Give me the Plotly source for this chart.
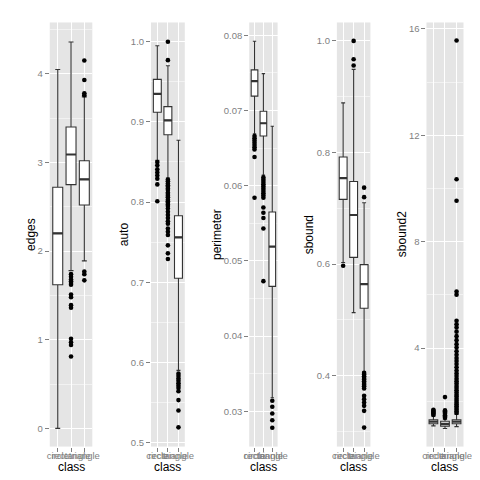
import plotly.graph_objects as go

# classes on every x axis
classes = ["circle", "rectangle", "triangle"]

# box stats per class: [lower whisker, q1, median, q3, upper whisker]
edges_box = [[0.00, 1.62, 2.20, 2.72, 4.05],
             [1.78, 2.75, 3.09, 3.40, 4.36],
             [1.89, 2.52, 2.81, 3.02, 3.74]]
edges_out = [[],
             [1.74, 1.71, 1.68, 1.66, 1.64, 1.62, 1.51, 1.48, 1.39, 1.36, 1.01, 0.97, 0.94, 0.81],
             [4.15, 3.93, 3.78, 3.76, 1.77, 1.74, 1.67]]

auto_box = [[0.852, 0.912, 0.935, 0.953, 0.995],
            [0.830, 0.884, 0.902, 0.919, 0.970],
            [0.590, 0.705, 0.756, 0.783, 0.877]]
auto_out = [[0.850, 0.846, 0.841, 0.837, 0.833, 0.829, 0.822, 0.801],
            [1.000, 0.977, 0.828, 0.826, 0.823, 0.821, 0.819, 0.817, 0.815, 0.812,
             0.810, 0.808, 0.806, 0.803, 0.801, 0.799, 0.797, 0.795, 0.792, 0.788,
             0.784, 0.780, 0.776, 0.773, 0.767, 0.763, 0.759, 0.746, 0.736, 0.729],
            [0.586, 0.583, 0.580, 0.577, 0.574, 0.571, 0.568, 0.564, 0.553, 0.540, 0.519]]

perimeter_box = [[0.0669, 0.0719, 0.0739, 0.0754, 0.0792],
                 [0.0614, 0.0666, 0.0683, 0.0699, 0.0749],
                 [0.0318, 0.0466, 0.0519, 0.0565, 0.0679]]
perimeter_out = [[0.0666, 0.0663, 0.0660, 0.0657, 0.0654, 0.0651, 0.0648, 0.0638, 0.0584],
                 [0.0611, 0.0608, 0.0605, 0.0602, 0.0599, 0.0596, 0.0593, 0.0590, 0.0587,
                  0.0584, 0.0571, 0.0564, 0.0557, 0.0543, 0.0473],
                 [0.0314, 0.0306, 0.0297, 0.0288, 0.0278]]

sbound_box = [[0.603, 0.716, 0.754, 0.792, 0.889],
              [0.513, 0.612, 0.688, 0.748, 0.949],
              [0.407, 0.521, 0.564, 0.599, 0.710]]
sbound_out = [[0.597],
              [1.000, 0.967, 0.956],
              [0.737, 0.720, 0.405, 0.402, 0.399, 0.396, 0.393, 0.390, 0.387, 0.384,
               0.381, 0.377, 0.364, 0.358, 0.352, 0.346, 0.337, 0.307]]

sbound2_box = [[1.08, 1.16, 1.24, 1.31, 1.45],
               [0.98, 1.07, 1.15, 1.25, 1.33],
               [1.05, 1.16, 1.24, 1.31, 1.52]]
sbound2_out = [[1.49, 1.53, 1.57, 1.61, 1.65, 1.68],
               [1.38, 1.43, 1.48, 1.53, 1.58, 1.63, 1.66, 2.16],
               [1.56, 1.62, 1.68, 1.75, 1.82, 1.88, 1.95, 2.02, 2.10, 2.18, 2.25,
                2.33, 2.42, 2.50, 2.58, 2.67, 2.76, 2.85, 2.95, 3.05, 3.16, 3.28,
                3.40, 3.52, 3.63, 3.75, 3.88, 4.02, 4.15, 4.30, 4.45, 4.62, 4.78,
                4.90, 5.03, 6.01, 6.13, 9.54, 10.35, 15.56]]

# name, stats, outliers, y range, tick step, tick format, panel x px, y-title x px
panels = [
    ("edges", edges_box, edges_out, [-0.206, 4.58], 1, "d", [37.0, 81.0], 17),
    ("auto", auto_box, auto_out, [0.495, 1.024], 0.1, ".1f", [141.7, 176.7], 113.5),
    ("perimeter", perimeter_box, perimeter_out, [0.0253, 0.0817], 0.01, ".2f", [243.3, 272.7], 209.5),
    ("sbound", sbound_box, sbound_out, [0.273, 1.033], 0.2, ".1f", [334.0, 368.7], 305),
    ("sbound2", sbound2_box, sbound2_out, [0.30, 16.24], 4, "d", [426.7, 465.0], 401),
]

W = H = 480
top_px, bot_px = 14.5, 439.5
ink = "#333333"
grey = "#7F7F7F"
font = "Liberation Sans, Arial, sans-serif"

fig = go.Figure()
annotations = []
pos = [1, 2, 3]

for i, (name, box, outs, yr, dt, fmt, xd, ytx) in enumerate(panels, start=1):
    xa = "x" if i == 1 else f"x{i}"
    ya = "y" if i == 1 else f"y{i}"
    fig.add_trace(go.Box(
        x=pos,
        lowerfence=[b[0] for b in box], q1=[b[1] for b in box],
        median=[b[2] for b in box], q3=[b[3] for b in box],
        upperfence=[b[4] for b in box],
        width=0.75, fillcolor="white", line=dict(color=ink, width=1.1),
        boxpoints=False, showlegend=False, hoverinfo="skip",
        xaxis=xa, yaxis=ya))
    # thicker median bar, as ggplot draws it
    mx, my = [], []
    for p, b in zip(pos, box):
        mx += [p - 0.375, p + 0.375, None]
        my += [b[2], b[2], None]
    fig.add_trace(go.Scatter(x=mx, y=my, mode="lines",
                             line=dict(color=ink, width=2.2),
                             showlegend=False, hoverinfo="skip",
                             xaxis=xa, yaxis=ya))
    ox, oy = [], []
    for p, o in zip(pos, outs):
        ox += [p] * len(o)
        oy += o
    fig.add_trace(go.Scatter(x=ox, y=oy, mode="markers",
                             marker=dict(color="black", size=4.6),
                             showlegend=False, hoverinfo="skip",
                             xaxis=xa, yaxis=ya))

    key = "" if i == 1 else str(i)
    fig.layout["xaxis" + key] = dict(
        domain=[xd[0] / W, xd[1] / W], anchor=ya, range=[0.4, 3.6],
        tickvals=pos, ticktext=classes, tickangle=0,
        ticks="outside", ticklen=4, tickcolor=grey, tickwidth=1,
        ticklabelstandoff=-4,
        tickfont=dict(size=9.5, color=grey, family=font),
        showgrid=True, gridcolor="white", gridwidth=1.2,
        zeroline=False, showline=False, fixedrange=True)
    fig.layout["yaxis" + key] = dict(
        domain=[1 - bot_px / H, 1 - top_px / H], anchor=xa, range=yr,
        dtick=dt, tick0=0, tickformat=fmt,
        ticks="outside", ticklen=4, tickcolor=grey, tickwidth=1,
        tickfont=dict(size=9.5, color=grey, family=font),
        showgrid=True, gridcolor="white", gridwidth=1.2,
        minor=dict(dtick=dt / 2, tick0=0, showgrid=True,
                   gridcolor="#F2F2F2", gridwidth=0.6, ticks=""),
        zeroline=False, showline=False, fixedrange=True)

    annotations.append(dict(text=name, xref="paper", yref="paper",
                            x=ytx / W, y=1 - (top_px + bot_px) / 2 / H,
                            textangle=-90, showarrow=False,
                            xanchor="center", yanchor="middle",
                            font=dict(size=12, color="black", family=font)))
    annotations.append(dict(text="class", xref="paper", yref="paper",
                            x=(xd[0] + xd[1]) / 2 / W, y=1 - 460 / H,
                            showarrow=False, xanchor="center", yanchor="middle",
                            font=dict(size=12, color="black", family=font)))

fig.update_layout(
    width=W, height=H, margin=dict(l=0, r=0, t=0, b=0),
    paper_bgcolor="white", plot_bgcolor="#E5E5E5",
    annotations=annotations, font=dict(family=font),
)

fig.write_html("out.html")
